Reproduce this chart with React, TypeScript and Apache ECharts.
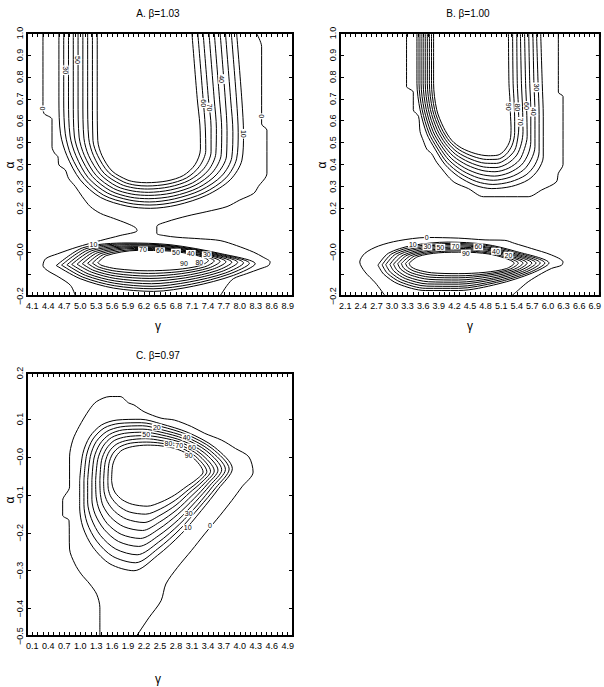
import React, { useEffect, useRef } from "react";
import * as echarts from "echarts";

// ---------- tick labels ----------
const xLabelsA = [4.1, 4.4, 4.7, 5.0, 5.3, 5.6, 5.9, 6.2, 6.5, 6.8, 7.1, 7.4, 7.7, 8.0, 8.3, 8.6, 8.9];
const xLabelsB = [2.1, 2.4, 2.7, 3.0, 3.3, 3.6, 3.9, 4.2, 4.5, 4.8, 5.1, 5.4, 5.7, 6.0, 6.3, 6.6, 6.9];
const xLabelsC = [0.1, 0.4, 0.7, 1.0, 1.3, 1.6, 1.9, 2.2, 2.5, 2.8, 3.1, 3.4, 3.7, 4.0, 4.3, 4.6, 4.9];
const yTicksAB = [-0.2, -0.1, 0, 0.1, 0.2, 0.3, 0.4, 0.5, 0.6, 0.7, 0.8, 0.9, 1.0];
const yLabelsAB = [-0.2, 0, 0.2, 0.3, 0.4, 0.5, 0.6, 0.7, 0.8, 0.9, 1.0];
const yTicksC = [-0.4, -0.3, -0.2, -0.1, 0, 0.1];
const yLabelsC = [-0.472, -0.4, -0.3, -0.2, -0.1, 0, 0.1, 0.221];
const yLabelTextC = ["−0.5", "−0.4", "−0.3", "−0.2", "−0.1", "−0.0", "0.1", "0.2"];
const titles = ["A. β=1.03", "B. β=1.00", "C. β=0.97"];

// ---------- panel A : upper U-shaped contours (10..90) ----------
const aU10 = [[4.60,1],[4.60,0.69],[4.63,0.54],[4.75,0.44],[5.00,0.33],[5.38,0.25],[5.88,0.21],[6.32,0.20],[6.82,0.215],[7.38,0.26],[7.82,0.33],[8.04,0.42],[8.07,0.54],[8.04,0.69],[7.94,1]];
const aU20 = [[4.69,1],[4.69,0.69],[4.72,0.54],[4.83,0.44],[5.08,0.335],[5.44,0.26],[5.90,0.224],[6.31,0.215],[6.80,0.229],[7.33,0.271],[7.74,0.339],[7.94,0.426],[7.97,0.545],[7.94,0.69],[7.84,1]];
const aU30 = [[4.78,1],[4.78,0.69],[4.81,0.53],[4.92,0.44],[5.15,0.34],[5.51,0.27],[5.92,0.238],[6.30,0.229],[6.77,0.243],[7.27,0.283],[7.66,0.348],[7.85,0.433],[7.87,0.55],[7.83,0.69],[7.73,1]];
const aU40 = [[4.87,1],[4.87,0.69],[4.89,0.53],[5.00,0.44],[5.23,0.345],[5.57,0.28],[5.94,0.251],[6.29,0.244],[6.75,0.256],[7.22,0.294],[7.57,0.356],[7.75,0.439],[7.76,0.555],[7.73,0.69],[7.63,1]];
const aU50 = [[4.96,1],[4.96,0.69],[4.98,0.525],[5.08,0.44],[5.30,0.35],[5.63,0.29],[5.97,0.265],[6.29,0.259],[6.73,0.27],[7.16,0.305],[7.49,0.365],[7.65,0.445],[7.66,0.56],[7.62,0.695],[7.52,1]];
const aU60 = [[5.05,1],[5.05,0.69],[5.07,0.52],[5.16,0.44],[5.38,0.355],[5.69,0.30],[5.99,0.279],[6.28,0.273],[6.70,0.284],[7.11,0.316],[7.41,0.374],[7.55,0.451],[7.56,0.565],[7.52,0.695],[7.42,1]];
const aU70 = [[5.14,1],[5.14,0.69],[5.16,0.52],[5.25,0.44],[5.45,0.36],[5.76,0.31],[6.01,0.293],[6.27,0.288],[6.68,0.298],[7.05,0.328],[7.33,0.383],[7.46,0.458],[7.46,0.57],[7.41,0.70],[7.31,1]];
const aU80 = [[5.23,1],[5.23,0.69],[5.24,0.51],[5.33,0.44],[5.53,0.365],[5.82,0.32],[6.03,0.306],[6.26,0.302],[6.65,0.311],[7.00,0.339],[7.24,0.391],[7.36,0.464],[7.35,0.575],[7.31,0.70],[7.21,1]];
const aU90 = [[5.32,1],[5.32,0.69],[5.33,0.51],[5.41,0.44],[5.60,0.37],[5.88,0.33],[6.05,0.32],[6.25,0.317],[6.63,0.325],[6.94,0.35],[7.16,0.40],[7.26,0.47],[7.25,0.58],[7.20,0.70],[7.10,1]];

// ---------- panel A : lower oval contours (10..90) ----------
const aL10 = [[4.55,-0.061],[5.05,0.02],[5.88,0.042],[6.69,0.034],[7.63,-0.006],[8.29,-0.053],[7.88,-0.106],[7.13,-0.155],[6.38,-0.179],[5.63,-0.164],[5.00,-0.121],[4.55,-0.061]];
const aL20 = [[4.65,-0.059],[5.11,0.016],[5.90,0.038],[6.69,0.030],[7.58,-0.007],[8.18,-0.051],[7.80,-0.10],[7.09,-0.146],[6.37,-0.167],[5.64,-0.153],[5.05,-0.114],[4.65,-0.059]];
const aL30 = [[4.75,-0.058],[5.16,0.011],[5.93,0.034],[6.69,0.027],[7.52,-0.008],[8.07,-0.049],[7.73,-0.095],[7.05,-0.136],[6.35,-0.156],[5.65,-0.142],[5.10,-0.106],[4.75,-0.058]];
const aL40 = [[4.84,-0.056],[5.22,0.007],[5.95,0.029],[6.69,0.023],[7.47,-0.009],[7.96,-0.047],[7.65,-0.089],[7.01,-0.127],[6.34,-0.144],[5.65,-0.131],[5.15,-0.099],[4.84,-0.056]];
const aL50 = [[4.94,-0.055],[5.28,0.003],[5.98,0.025],[6.69,0.019],[7.41,-0.010],[7.85,-0.046],[7.57,-0.084],[6.98,-0.117],[6.32,-0.132],[5.66,-0.12],[5.21,-0.091],[4.94,-0.055]];
const aL60 = [[5.04,-0.053],[5.33,-0.002],[6.00,0.021],[6.69,0.016],[7.36,-0.011],[7.74,-0.044],[7.49,-0.078],[6.94,-0.108],[6.31,-0.12],[5.67,-0.109],[5.26,-0.084],[5.04,-0.053]];
const aL70 = [[5.14,-0.051],[5.39,-0.006],[6.02,0.017],[6.69,0.012],[7.30,-0.013],[7.63,-0.042],[7.42,-0.072],[6.90,-0.098],[6.29,-0.109],[5.67,-0.098],[5.31,-0.076],[5.14,-0.051]];
const aL80 = [[5.23,-0.05],[5.44,-0.011],[6.05,0.012],[6.69,0.009],[7.25,-0.014],[7.52,-0.04],[7.34,-0.067],[6.86,-0.089],[6.28,-0.097],[5.68,-0.087],[5.36,-0.069],[5.23,-0.05]];
const aL90 = [[5.33,-0.048],[5.50,-0.015],[6.07,0.008],[6.69,0.005],[7.19,-0.015],[7.41,-0.038],[7.26,-0.061],[6.82,-0.079],[6.26,-0.085],[5.69,-0.076],[5.41,-0.061],[5.33,-0.048]];

// ---------- panel A : zero contours ----------
const aZeroLeft = [[4.30,1],[4.30,0.667],[4.32,0.633],[4.47,0.606],[4.47,0.481],[4.52,0.451],[4.58,0.436],[4.60,0.398],[4.72,0.375],[4.78,0.337],[4.91,0.299],[5.04,0.253],[5.19,0.208],[5.38,0.177],[5.63,0.154],[5.88,0.131],[6.04,0.112],[6.07,0.098],[5.75,0.076],[5.38,0.053],[4.94,0.023],[4.57,-0.008],[4.35,-0.03],[4.30,-0.061],[4.38,-0.083],[4.60,-0.114],[4.82,-0.152],[4.91,-0.2]];
const aZeroRight = [[8.31,1],[8.41,0.938],[8.41,0.585],[8.51,0.557],[8.51,0.36],[8.35,0.30],[8.26,0.268],[8.00,0.238],[7.76,0.208],[7.38,0.185],[7.01,0.165],[6.63,0.139],[6.44,0.117],[6.44,0.086],[6.57,0.076],[6.82,0.068],[7.26,0.061],[7.63,0.053],[7.94,0.03],[8.26,0],[8.44,-0.023],[8.57,-0.045],[8.54,-0.061],[8.38,-0.076],[8.13,-0.098],[7.88,-0.121],[7.76,-0.152],[7.63,-0.2]];

// ---------- panel B : upper U contours ----------
const bU10 = [[3.48,1],[3.48,0.77],[3.54,0.65],[3.67,0.54],[3.83,0.47],[4.02,0.40],[4.28,0.345],[4.60,0.305],[4.92,0.29],[5.30,0.30],[5.62,0.33],[5.81,0.375],[5.91,0.435],[5.91,0.62],[5.89,0.77],[5.86,1]];
const bU20 = [[3.52,1],[3.52,0.77],[3.58,0.65],[3.71,0.544],[3.87,0.475],[4.06,0.409],[4.32,0.358],[4.63,0.322],[4.94,0.309],[5.28,0.321],[5.58,0.353],[5.75,0.399],[5.83,0.458],[5.83,0.629],[5.81,0.77],[5.78,1]];
const bU30 = [[3.56,1],[3.56,0.77],[3.62,0.65],[3.75,0.548],[3.91,0.48],[4.10,0.419],[4.36,0.371],[4.66,0.339],[4.95,0.328],[5.27,0.342],[5.53,0.375],[5.68,0.424],[5.75,0.481],[5.75,0.638],[5.73,0.77],[5.71,1]];
const bU40 = [[3.60,1],[3.60,0.77],[3.66,0.65],[3.79,0.551],[3.95,0.485],[4.14,0.428],[4.40,0.384],[4.69,0.356],[4.97,0.347],[5.25,0.362],[5.49,0.398],[5.62,0.448],[5.67,0.504],[5.67,0.646],[5.65,0.77],[5.63,1]];
const bU50 = [[3.64,1],[3.64,0.77],[3.70,0.65],[3.83,0.555],[3.99,0.49],[4.18,0.438],[4.44,0.398],[4.73,0.373],[4.98,0.367],[5.24,0.383],[5.45,0.42],[5.55,0.473],[5.60,0.528],[5.59,0.655],[5.57,0.77],[5.55,1]];
const bU60 = [[3.68,1],[3.68,0.77],[3.74,0.65],[3.87,0.559],[4.03,0.495],[4.22,0.447],[4.48,0.411],[4.76,0.389],[5.00,0.386],[5.22,0.404],[5.40,0.443],[5.49,0.497],[5.52,0.551],[5.51,0.664],[5.49,0.77],[5.47,1]];
const bU70 = [[3.72,1],[3.72,0.77],[3.78,0.65],[3.91,0.563],[4.07,0.50],[4.26,0.456],[4.52,0.424],[4.79,0.406],[5.01,0.405],[5.20,0.425],[5.36,0.465],[5.42,0.521],[5.44,0.574],[5.43,0.673],[5.41,0.77],[5.40,1]];
const bU80 = [[3.76,1],[3.76,0.77],[3.82,0.65],[3.95,0.566],[4.11,0.505],[4.30,0.466],[4.56,0.437],[4.82,0.423],[5.03,0.424],[5.19,0.445],[5.31,0.488],[5.36,0.546],[5.36,0.597],[5.35,0.681],[5.33,0.77],[5.32,1]];
const bU90 = [[3.80,1],[3.80,0.77],[3.86,0.65],[3.99,0.57],[4.15,0.51],[4.34,0.475],[4.60,0.45],[4.85,0.44],[5.04,0.443],[5.17,0.466],[5.27,0.51],[5.29,0.57],[5.28,0.62],[5.27,0.69],[5.25,0.77],[5.24,1]];
const bZeroUpper = [[3.28,1],[3.28,0.755],[3.32,0.747],[3.41,0.73],[3.41,0.65],[3.51,0.62],[3.54,0.55],[3.60,0.51],[3.67,0.47],[3.76,0.45],[3.86,0.41],[3.96,0.38],[4.08,0.345],[4.21,0.317],[4.47,0.29],[4.76,0.253],[5.62,0.253],[5.88,0.284],[6.16,0.32],[6.20,0.36],[6.29,0.40],[6.29,0.71],[6.20,0.73],[6.20,1]];

// ---------- panel B : lower oval contours ----------
const bL10 = [[2.73,-0.059],[2.93,-0.005],[3.38,0.03],[4.08,0.046],[4.79,0.036],[5.36,0.005],[6.02,-0.05],[5.70,-0.095],[5.04,-0.145],[4.28,-0.175],[3.64,-0.175],[3.12,-0.145],[2.84,-0.10],[2.73,-0.059]];
const bL20 = [[2.81,-0.058],[3.00,-0.007],[3.44,0.026],[4.12,0.04],[4.80,0.031],[5.34,0.001],[5.94,-0.05],[5.64,-0.093],[5.01,-0.138],[4.28,-0.165],[3.65,-0.165],[3.17,-0.137],[2.91,-0.096],[2.81,-0.058]];
const bL30 = [[2.88,-0.057],[3.07,-0.009],[3.51,0.022],[4.16,0.035],[4.80,0.025],[5.31,-0.003],[5.85,-0.05],[5.58,-0.09],[4.98,-0.132],[4.28,-0.156],[3.67,-0.155],[3.21,-0.129],[2.97,-0.091],[2.88,-0.057]];
const bL40 = [[2.96,-0.056],[3.14,-0.011],[3.57,0.018],[4.20,0.029],[4.81,0.02],[5.29,-0.007],[5.77,-0.05],[5.51,-0.088],[4.95,-0.125],[4.28,-0.146],[3.68,-0.145],[3.26,-0.121],[3.04,-0.087],[2.96,-0.056]];
const bL50 = [[3.03,-0.055],[3.22,-0.013],[3.64,0.014],[4.24,0.023],[4.82,0.014],[5.27,-0.011],[5.69,-0.05],[5.45,-0.085],[4.92,-0.119],[4.28,-0.137],[3.70,-0.135],[3.30,-0.113],[3.10,-0.083],[3.03,-0.055]];
const bL60 = [[3.11,-0.053],[3.29,-0.014],[3.70,0.009],[4.28,0.017],[4.83,0.009],[5.24,-0.015],[5.60,-0.05],[5.39,-0.083],[4.88,-0.112],[4.28,-0.127],[3.71,-0.124],[3.35,-0.104],[3.17,-0.078],[3.11,-0.053]];
const bL70 = [[3.18,-0.052],[3.36,-0.016],[3.76,0.005],[4.32,0.012],[4.83,0.003],[5.22,-0.019],[5.52,-0.05],[5.33,-0.08],[4.85,-0.105],[4.28,-0.117],[3.73,-0.114],[3.39,-0.096],[3.23,-0.074],[3.18,-0.052]];
const bL80 = [[3.26,-0.051],[3.43,-0.018],[3.83,0.001],[4.36,0.006],[4.84,-0.003],[5.19,-0.023],[5.43,-0.05],[5.26,-0.078],[4.82,-0.099],[4.28,-0.108],[3.75,-0.104],[3.44,-0.088],[3.30,-0.069],[3.26,-0.051]];
const bL90 = [[3.33,-0.05],[3.50,-0.02],[3.89,-0.003],[4.40,0],[4.85,-0.008],[5.17,-0.027],[5.35,-0.05],[5.20,-0.075],[4.79,-0.092],[4.28,-0.098],[3.76,-0.094],[3.48,-0.08],[3.36,-0.065],[3.33,-0.05]];
const bZeroLower = [[2.87,-0.2],[2.68,-0.14],[2.48,-0.09],[2.38,-0.045],[2.48,-0.005],[2.74,0.028],[3.12,0.052],[3.67,0.067],[4.28,0.064],[4.79,0.056],[5.17,0.054],[5.36,0.04],[5.68,0.017],[6.07,-0.013],[6.29,-0.045],[6.26,-0.06],[6.07,-0.074],[5.88,-0.097],[5.62,-0.135],[5.43,-0.173],[5.30,-0.2]];

// ---------- panel C : nested contours ----------
const cN10 = [[0.99,-0.062],[1.05,0.009],[1.18,0.053],[1.40,0.084],[1.69,0.097],[2.14,0.099],[2.52,0.087],[3.03,0.064],[3.53,0.025],[3.86,-0.031],[3.60,-0.084],[3.28,-0.141],[2.90,-0.203],[2.45,-0.26],[2.01,-0.30],[1.56,-0.282],[1.24,-0.238],[1.05,-0.185],[0.99,-0.132],[0.99,-0.062]];
const cN20 = [[1.07,-0.062],[1.12,0.005],[1.24,0.047],[1.45,0.076],[1.73,0.088],[2.15,0.09],[2.52,0.08],[3.00,0.059],[3.48,0.022],[3.80,-0.032],[3.55,-0.081],[3.24,-0.133],[2.88,-0.19],[2.46,-0.242],[2.04,-0.279],[1.61,-0.262],[1.31,-0.222],[1.13,-0.174],[1.07,-0.125],[1.07,-0.062]];
const cN30 = [[1.14,-0.062],[1.19,0.001],[1.30,0.04],[1.50,0.067],[1.76,0.079],[2.17,0.082],[2.52,0.072],[2.98,0.053],[3.43,0.018],[3.73,-0.033],[3.49,-0.078],[3.21,-0.126],[2.87,-0.177],[2.47,-0.225],[2.07,-0.258],[1.67,-0.243],[1.38,-0.207],[1.21,-0.163],[1.14,-0.119],[1.14,-0.062]];
const cN40 = [[1.22,-0.062],[1.26,-0.003],[1.37,0.034],[1.55,0.059],[1.80,0.071],[2.18,0.073],[2.52,0.065],[2.95,0.048],[3.38,0.015],[3.66,-0.034],[3.44,-0.075],[3.17,-0.118],[2.85,-0.165],[2.48,-0.207],[2.10,-0.236],[1.72,-0.223],[1.45,-0.191],[1.28,-0.151],[1.22,-0.112],[1.22,-0.062]];
const cN50 = [[1.29,-0.062],[1.33,-0.007],[1.43,0.028],[1.59,0.051],[1.83,0.062],[2.20,0.065],[2.52,0.058],[2.93,0.042],[3.33,0.011],[3.59,-0.035],[3.39,-0.072],[3.14,-0.11],[2.83,-0.152],[2.48,-0.19],[2.13,-0.215],[1.77,-0.204],[1.51,-0.176],[1.36,-0.14],[1.30,-0.105],[1.29,-0.062]];
const cN60 = [[1.37,-0.062],[1.40,-0.01],[1.49,0.021],[1.64,0.043],[1.87,0.053],[2.21,0.056],[2.52,0.051],[2.91,0.037],[3.27,0.008],[3.52,-0.037],[3.34,-0.069],[3.10,-0.102],[2.82,-0.139],[2.49,-0.172],[2.17,-0.194],[1.82,-0.184],[1.58,-0.16],[1.43,-0.129],[1.38,-0.099],[1.37,-0.062]];
const cN70 = [[1.44,-0.062],[1.47,-0.014],[1.55,0.015],[1.69,0.034],[1.90,0.044],[2.23,0.048],[2.52,0.043],[2.88,0.031],[3.22,0.005],[3.45,-0.038],[3.29,-0.066],[3.06,-0.094],[2.80,-0.127],[2.50,-0.154],[2.20,-0.173],[1.87,-0.164],[1.65,-0.144],[1.51,-0.118],[1.45,-0.092],[1.44,-0.062]];
const cN80 = [[1.52,-0.062],[1.54,-0.018],[1.61,0.008],[1.74,0.026],[1.94,0.036],[2.25,0.039],[2.52,0.036],[2.86,0.026],[3.17,0.001],[3.38,-0.039],[3.24,-0.063],[3.03,-0.087],[2.79,-0.114],[2.51,-0.137],[2.23,-0.151],[1.92,-0.145],[1.72,-0.129],[1.58,-0.106],[1.53,-0.086],[1.52,-0.062]];
const cN90 = [[1.59,-0.062],[1.61,-0.022],[1.68,0.002],[1.79,0.018],[1.98,0.027],[2.26,0.031],[2.52,0.029],[2.83,0.02],[3.12,-0.002],[3.31,-0.04],[3.18,-0.06],[2.99,-0.079],[2.77,-0.101],[2.52,-0.119],[2.26,-0.13],[1.98,-0.125],[1.79,-0.113],[1.66,-0.095],[1.61,-0.079],[1.59,-0.062]];
const cZero = [[1.37,-0.472],[1.37,-0.397],[1.31,-0.362],[1.18,-0.335],[1.02,-0.309],[0.90,-0.282],[0.80,-0.243],[0.79,-0.168],[0.67,-0.154],[0.67,-0.115],[0.80,-0.079],[0.80,0],[0.86,0.044],[0.98,0.08],[1.17,0.124],[1.31,0.146],[1.56,0.159],[1.75,0.159],[1.91,0.142],[2.01,0.137],[2.20,0.119],[2.52,0.102],[2.77,0.097],[3.09,0.08],[3.34,0.062],[3.66,0.044],[3.92,0.022],[4.17,0],[4.25,-0.04],[4.04,-0.079],[3.85,-0.115],[3.63,-0.154],[3.34,-0.203],[3.09,-0.247],[2.83,-0.291],[2.61,-0.335],[2.52,-0.379],[2.29,-0.424],[2.06,-0.472]];

// ---------- contour level labels ----------
const aULabels = [[4.30,0.656,"0"],[4.72,0.83,"30"],[4.95,0.877,"50"],[7.31,0.68,"60"],[7.43,0.66,"70"],[7.66,0.79,"40"],[8.07,0.54,"10"],[8.41,0.62,"0"]];
const aLLabels = [[5.25,0.035,"10"],[6.18,0.01,"70"],[6.50,0.006,"60"],[6.80,0.0,"50"],[7.08,-0.006,"40"],[7.38,-0.012,"30"],[7.24,-0.045,"80"],[6.95,-0.05,"90"]];
const bULabels = [[5.78,0.752,"30"],[5.25,0.664,"90"],[5.42,0.661,"80"],[5.59,0.667,"60"],[5.72,0.641,"40"],[5.48,0.595,"70"]];
const bLLabels = [[3.67,0.068,"0"],[3.40,0.036,"10"],[3.68,0.024,"30"],[3.93,0.022,"50"],[4.22,0.028,"70"],[4.42,-0.004,"90"],[4.66,0.024,"60"],[5.00,0.004,"40"],[5.24,-0.014,"20"]];
const cLabels = [[2.44,0.078,"20"],[2.24,0.058,"50"],[3.00,0.052,"40"],[2.66,0.034,"80"],[2.86,0.030,"70"],[3.10,0.026,"60"],[3.04,0.003,"90"],[3.04,-0.15,"30"],[3.02,-0.187,"10"],[3.44,-0.181,"0"]];

const contoursA = [aU10, aU20, aU30, aU40, aU50, aU60, aU70, aU80, aU90, aL10, aL20, aL30, aL40, aL50, aL60, aL70, aL80, aL90, aZeroLeft, aZeroRight];
const contoursB = [bU10, bU20, bU30, bU40, bU50, bU60, bU70, bU80, bU90, bZeroUpper, bL10, bL20, bL30, bL40, bL50, bL60, bL70, bL80, bL90, bZeroLower];
const contoursC = [cN10, cN20, cN30, cN40, cN50, cN60, cN70, cN80, cN90, cZero];

const FONT = "'Liberation Sans Narrow', 'Arial Narrow', 'Liberation Sans', Arial, sans-serif";

const fmtAB = (v: number) => {
  if (Math.abs(v) < 1e-9) return "−0.0";
  return v < 0 ? "−" + Math.abs(v).toFixed(1) : v.toFixed(1);
};
const fmtC = (v: number) => {
  for (let i = 0; i < yLabelsC.length; i++) if (Math.abs(v - yLabelsC[i]) < 1e-6) return yLabelTextC[i];
  return "";
};

const panels = [
  { grid: { left: 27, top: 33, width: 266, height: 263 }, xMin: 4, xMax: 9, xLabels: xLabelsA, yMin: -0.2, yMax: 1.0, yTicks: yTicksAB, yLabels: yLabelsAB, yFmt: fmtAB },
  { grid: { left: 340, top: 33, width: 263, height: 263 }, xMin: 2, xMax: 7, xLabels: xLabelsB, yMin: -0.2, yMax: 1.0, yTicks: yTicksAB, yLabels: yLabelsAB, yFmt: fmtAB },
  { grid: { left: 27, top: 373, width: 266, height: 263 }, xMin: 0, xMax: 5, xLabels: xLabelsC, yMin: -0.472, yMax: 0.221, yTicks: yTicksC, yLabels: yLabelsC, yFmt: fmtC },
];

const txt = (text: string, x: number, y: number, size: number, rotation = 0, bg = false) => ({
  type: "text", x, y, rotation, silent: true, z: 100,
  style: {
    text, fill: "#000", font: `${size}px ${FONT}`, textAlign: "center", textVerticalAlign: "middle",
    ...(bg ? { backgroundColor: "#fff", padding: [0, 1] } : {}),
  },
});

function baseGraphics() {
  return [
    txt(titles[0], 158, 13, 10), txt(titles[1], 468, 13, 10), txt(titles[2], 158, 355, 10),
    txt("γ", 158, 326, 12), txt("γ", 470, 326, 12), txt("γ", 158, 679, 12),
    txt("α", 10, 165, 12, Math.PI / 2), txt("α", 322, 165, 12, Math.PI / 2), txt("α", 10, 500, 12, Math.PI / 2),
  ];
}

function buildOption() {
  const grid: any[] = [];
  const xAxis: any[] = [];
  const yAxis: any[] = [];
  const series: any[] = [];
  const tickStyle = { show: true, inside: true, length: 4, lineStyle: { color: "#000", width: 1 } };
  const noLine = { show: false, onZero: false };
  panels.forEach((p, i) => {
    grid.push({ ...p.grid, show: true, borderColor: "#000", borderWidth: 2, backgroundColor: "transparent" });
    const xBase = { type: "value", gridIndex: i, min: p.xMin, max: p.xMax, interval: 0.1, axisLine: noLine, splitLine: { show: false } };
    xAxis.push({ ...xBase, position: "bottom", axisTick: tickStyle, axisLabel: { show: true, customValues: p.xLabels, formatter: (v: number) => v.toFixed(1), color: "#000", fontSize: 9, fontFamily: FONT, margin: 5 } });
    xAxis.push({ ...xBase, position: "top", axisTick: tickStyle, axisLabel: { show: false } });
    const yBase = { type: "value", gridIndex: i, min: p.yMin, max: p.yMax, axisLine: noLine, splitLine: { show: false } };
    yAxis.push({ ...yBase, position: "left", axisTick: { ...tickStyle, customValues: p.yTicks }, axisLabel: { show: true, customValues: p.yLabels, formatter: p.yFmt, rotate: 90, color: "#000", fontSize: 9, fontFamily: FONT, margin: 3 } });
    yAxis.push({ ...yBase, position: "right", axisTick: { ...tickStyle, customValues: p.yTicks }, axisLabel: { show: false } });
  });
  const addContours = (list: number[][][], idx: number) => {
    list.forEach((d) => {
      series.push({ type: "line", xAxisIndex: idx * 2, yAxisIndex: idx * 2, data: d, symbol: "none", smooth: 0.3, silent: true, color: "#000", lineStyle: { color: "#000", width: 1 }, z: 2 });
    });
  };
  addContours(contoursA, 0);
  addContours(contoursB, 1);
  addContours(contoursC, 2);
  return { animation: false, backgroundColor: "#fff", color: ["#000"], grid, xAxis, yAxis, series, graphic: baseGraphics() };
}

export default function App() {
  const ref = useRef<HTMLDivElement>(null);
  useEffect(() => {
    if (!ref.current) return;
    const chart = echarts.init(ref.current, null, { renderer: "svg" });
    chart.setOption(buildOption() as any);
    // contour level labels placed through the axes' own scales
    const labelGroups: [any[], number, number][] = [
      [aULabels, 0, -Math.PI / 2], [aLLabels, 0, 0],
      [bULabels, 1, -Math.PI / 2], [bLLabels, 1, 0],
      [cLabels, 2, 0],
    ];
    const extra: any[] = [];
    labelGroups.forEach(([list, idx, rot]) => {
      list.forEach((d) => {
        const pt = chart.convertToPixel({ xAxisIndex: idx * 2, yAxisIndex: idx * 2 } as any, [d[0], d[1]]) as number[];
        if (pt) extra.push(txt(d[2], pt[0], pt[1], 7, rot, true));
      });
    });
    chart.setOption({ graphic: [...baseGraphics(), ...extra] } as any);
    return () => chart.dispose();
  }, []);
  return <div ref={ref} style={{ position: "fixed", left: 0, top: 0, width: 604, height: 687, background: "#fff" }} />;
}
